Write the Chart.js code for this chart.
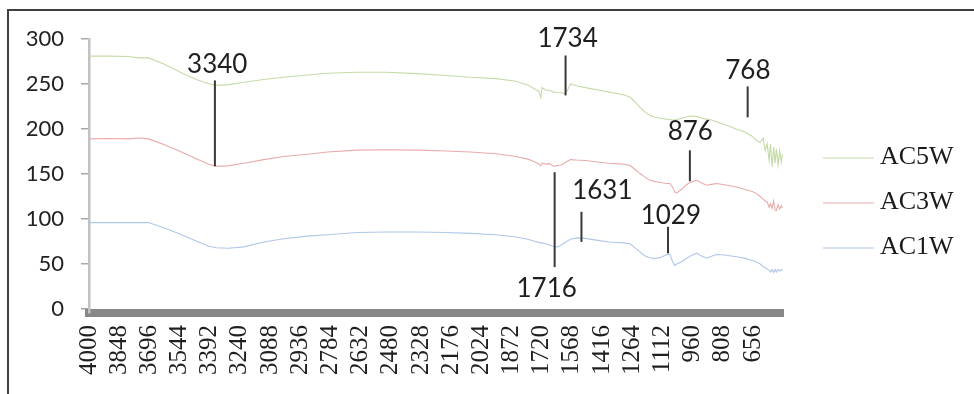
<!DOCTYPE html>
<html>
<head>
<meta charset="utf-8">
<script src="https://cdn.jsdelivr.net/npm/chart.js@4/dist/chart.umd.min.js"></script>
<style>
  html, body { margin: 0; padding: 0; background: #ffffff; }
  #wrap { position: relative; width: 974px; height: 394px; overflow: hidden; }
  #frame { position: absolute; left: 7px; top: 9px; width: 1000px; height: 500px;
           border-left: 2px solid #404040; border-top: 2px solid #404040; pointer-events: none; }
  canvas { position: absolute; left: 0; top: 0; }
</style>
</head>
<body>
<div id="wrap">
  <canvas id="ftir" width="974" height="394"></canvas>
  <div id="frame"></div>
</div>
<script>
// FTIR spectra, wavenumber (cm-1) against signal
const wavenumbers = [
  4000, 3900, 3800, 3750, 3700, 3620, 3540, 3460, 3400, 3360,
  3300, 3220, 3120, 3020, 2900, 2800, 2650, 2500, 2350, 2200,
  2080, 1950, 1850, 1790, 1760, 1735, 1725, 1718, 1700, 1680,
  1660, 1640, 1615, 1600, 1575, 1545, 1500, 1430, 1380, 1310,
  1275, 1250, 1225, 1200, 1175, 1150, 1120, 1095, 1075, 1060,
  1050, 1040, 1015, 995, 970, 940, 915, 890, 865, 840,
  800, 740, 700, 660, 640, 620, 605, 595, 585, 575,
  568, 560, 552, 545, 538, 530, 522, 514, 508
];
const ac5w = [
  281, 281, 280.5, 279, 279, 272, 263, 255, 250.5, 248.5,
  249, 252, 255, 257.5, 260, 262, 263, 263, 261.5, 259.5,
  257.5, 256, 253, 249, 245, 242, 235, 246, 243, 243,
  241, 240.5, 240, 239, 250, 248, 246, 243, 241, 238,
  235.5, 230, 224, 219, 215, 213, 212, 211, 210.5, 210,
  210, 210.5, 212, 213, 214.5, 214, 212, 211, 210, 208,
  205, 200, 197, 192, 187.5, 185, 190, 176, 184, 165,
  183, 158, 180, 162, 178, 160, 176, 163, 172
];
const ac3w = [
  189, 189.5, 189, 190, 189, 182.5, 175, 167, 161, 158.5,
  159, 162, 166, 169.5, 172, 174.5, 176.5, 177, 176.5, 175.5,
  174.5, 172.5, 169.5, 166.5, 164, 161.5, 159, 162, 161, 161.5,
  158.5, 159.5, 160.5, 163, 166, 165.5, 165, 163, 162, 161,
  159.5, 155, 150.5, 146.5, 143, 141.5, 140.5, 139.5, 139.5, 135,
  130, 129, 133, 137.5, 141, 143, 140, 137.5, 138.5, 139.5,
  138, 135.5, 133, 130.5, 128.5, 125, 122, 120, 119, 113,
  117, 112, 120, 110, 109.5, 116, 111, 115, 112
];
const ac1w = [
  96, 96, 96, 96, 96, 90, 83, 75.5, 70, 68,
  67.5, 69, 74.5, 78, 81, 82.5, 85, 85.5, 85.5, 85,
  84, 82.5, 80, 77.5, 75.5, 74, 73.5, 73.5, 72.5, 71,
  69.5, 69, 72, 74.5, 77.5, 79, 78.5, 76, 74.5, 73.5,
  72.5, 68, 63.5, 59, 57, 56, 57.5, 60, 61, 52,
  48.5, 50, 52.5, 55.5, 59, 62, 59, 56.5, 58.5, 60.5,
  60, 58, 56.5, 54, 52.5, 50, 47, 46, 44.5, 43,
  41, 44, 40.5, 44, 41, 44, 42, 44, 43
];
const seriesNames = ['AC5W', 'AC3W', 'AC1W'];
const xTickLabels = [
  4000, 3848, 3696, 3544, 3392, 3240, 3088, 2936, 2784, 2632, 2480, 2328,
  2176, 2024, 1872, 1720, 1568, 1416, 1264, 1112, 960, 808, 656
];
const yTickLabels = [0, 50, 100, 150, 200, 250, 300];

// band call-outs: text, and where each pointer sits (wavenumber, signal from/to)
const calloutLabels = ['3340', '1734', '768', '876', '1716', '1631', '1029'];
const calloutAt     = [3366, 1600, 683, 974, 1655, 1520, 1084];
const calloutFrom   = [254, 281.7, 247.3, 176.3, 152, 108, 91.3];
const calloutTo     = [158.6, 237.3, 213, 142, 46.6, 74.6, 61.8];
const calloutTextX  = [3354, 1590, 682, 972, 1695, 1415, 1070];
const calloutTextY  = [271, 300.5, 265, 197.4, 22.2, 131, 104];

const seriesColors = ['#c6daa8', '#e9abab', '#b0c7e6'];
const seriesValues = [ac5w, ac3w, ac1w];

const keyStyle = { lineStart: 823, lineEnd: 874, textX: 880, firstRow: 157.5, rowGap: 45,
                   font: '26px "Liberation Serif"', color: '#1a1a1a' };

const calloutPlugin = {
  id: 'bandCallouts',
  afterDatasetsDraw(chart) {
    const { ctx, scales: { x, y } } = chart;
    ctx.save();
    ctx.strokeStyle = '#383838';
    ctx.lineWidth = 2;
    ctx.fillStyle = '#1f1f1f';
    ctx.font = '26px Lato';
    ctx.textAlign = 'center';
    ctx.textBaseline = 'middle';
    calloutLabels.forEach((label, i) => {
      const px = x.getPixelForValue(calloutAt[i]);
      ctx.beginPath();
      ctx.moveTo(px, y.getPixelForValue(calloutFrom[i]));
      ctx.lineTo(px, y.getPixelForValue(calloutTo[i]));
      ctx.stroke();
      ctx.fillText(label, x.getPixelForValue(calloutTextX[i]), y.getPixelForValue(calloutTextY[i]));
    });
    ctx.restore();
  }
};

const keyPlugin = {
  id: 'seriesKey',
  afterDraw(chart) {
    const { ctx } = chart;
    ctx.save();
    chart.data.datasets.forEach((ds, i) => {
      const yy = keyStyle.firstRow + i * keyStyle.rowGap;
      ctx.strokeStyle = ds.borderColor;
      ctx.lineWidth = 1.2;
      ctx.beginPath();
      ctx.moveTo(keyStyle.lineStart, yy + 0.5);
      ctx.lineTo(keyStyle.lineEnd, yy + 0.5);
      ctx.stroke();
      ctx.fillStyle = keyStyle.color;
      ctx.font = keyStyle.font;
      ctx.textAlign = 'left';
      ctx.textBaseline = 'middle';
      ctx.fillText(ds.label, keyStyle.textX, yy);
    });
    ctx.restore();
  }
};

new Chart(document.getElementById('ftir'), {
  type: 'line',
  data: {
    datasets: seriesNames.map((name, s) => ({
      label: name,
      data: wavenumbers.map((w, i) => ({ x: w, y: seriesValues[s][i] })),
      borderColor: seriesColors[s],
      borderWidth: 1.1,
      pointRadius: 0,
      tension: 0,
      fill: false
    }))
  },
  options: {
    responsive: false,
    animation: false,
    devicePixelRatio: 1,
    layout: { padding: { top: 39, right: 191, bottom: 0, left: 0 } },
    plugins: { legend: { display: false }, tooltip: { enabled: false } },
    scales: {
      x: {
        type: 'linear',
        reverse: true,
        min: 505,
        max: 4000,
        afterBuildTicks(scale) { scale.ticks = xTickLabels.map(v => ({ value: v })); },
        afterFit(scale) { scale.height = 81; },
        grid: { display: false, drawTicks: false, tickLength: 0 },
        border: { display: true, width: 8, color: '#878787' },
        ticks: {
          autoSkip: false,
          minRotation: 90,
          maxRotation: 90,
          padding: 12,
          color: '#1f1f1f',
          font: { family: '"Liberation Serif"', size: 25 },
          callback: v => String(v)
        }
      },
      y: {
        min: -4.44,
        max: 300,
        afterBuildTicks(scale) { scale.ticks = yTickLabels.map(v => ({ value: v })); },
        afterFit(scale) { scale.width = 89; },
        grid: { drawOnChartArea: false, drawTicks: true, tickLength: 8, color: '#a8a8a8', lineWidth: 1.5 },
        border: { display: true, width: 2.5, color: '#c2c2c2' },
        ticks: {
          padding: 17,
          color: '#222222',
          font: { family: 'Lato', size: 22 },
          callback: v => String(v)
        }
      }
    }
  },
  plugins: [calloutPlugin, keyPlugin]
});
</script>
</body>
</html>
